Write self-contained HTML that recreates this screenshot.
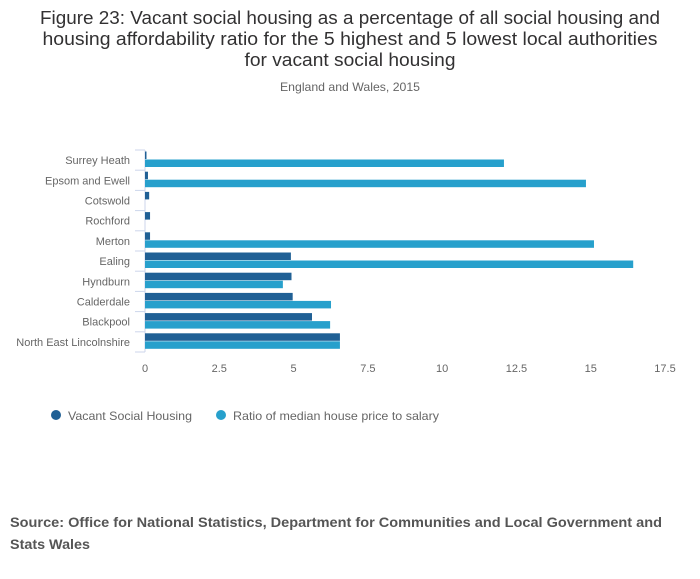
<!DOCTYPE html>
<html><head><meta charset="utf-8"><style>
body{margin:0;background:#fff;font-family:"Liberation Sans",sans-serif;}
svg text{font-family:"Liberation Sans",sans-serif;}
</style></head><body>
<svg width="700" height="574">
<g fill="#323132" font-size="18.5" text-anchor="middle">
<text x="350" y="24" textLength="620" lengthAdjust="spacingAndGlyphs">Figure 23: Vacant social housing as a percentage of all social housing and</text>
<text x="350" y="45" textLength="615" lengthAdjust="spacingAndGlyphs">housing affordability ratio for the 5 highest and 5 lowest local authorities</text>
<text x="350" y="66" textLength="211" lengthAdjust="spacingAndGlyphs">for vacant social housing</text>
</g>
<text x="350" y="91" text-anchor="middle" font-size="12" fill="#666" textLength="140" lengthAdjust="spacingAndGlyphs">England and Wales, 2015</text>
<g id="plot"></g>
<g font-size="12" fill="#666">
<circle cx="56" cy="415" r="5" fill="#206095"/>
<text x="68" y="420" textLength="124" lengthAdjust="spacingAndGlyphs">Vacant Social Housing</text>
<circle cx="221" cy="415" r="5" fill="#27a0cc"/>
<text x="233" y="420" textLength="206" lengthAdjust="spacingAndGlyphs">Ratio of median house price to salary</text>
</g>
<g font-size="14" font-weight="bold" fill="#555">
<text x="10" y="527" textLength="652" lengthAdjust="spacingAndGlyphs">Source: Office for National Statistics, Department for Communities and Local Government and</text>
<text x="10" y="549" textLength="80" lengthAdjust="spacingAndGlyphs">Stats Wales</text>
</g>
</svg>
<script>
const categories=["Surrey Heath","Epsom and Ewell","Cotswold","Rochford","Merton","Ealing","Hyndburn","Calderdale","Blackpool","North East Lincolnshire"];
const vacant=[0.05,0.1,0.14,0.17,0.17,4.91,4.93,4.97,5.62,6.56];
const ratio=[12.08,14.84,0,0,15.11,16.43,4.64,6.26,6.23,6.56];
const ticks=[0,2.5,5,7.5,10,12.5,15,17.5];
const ns="http://www.w3.org/2000/svg";
const g=document.getElementById('plot');
const x0=145,x1=665,xmax=17.5,y0=150,band=20.2;
const X=v=>x0+(x1-x0)*v/xmax;
const Y=i=>y0+i*band;
function mk(t,a){const e=document.createElementNS(ns,t);for(const k in a)e.setAttribute(k,a[k]);g.appendChild(e);return e;}
let ax=mk('line',{x1:x0,x2:x0,y1:y0,y2:Y(categories.length),stroke:'#ccd6eb'});


for(let i=0;i<=categories.length;i++){
 let t=mk('line',{x1:135,x2:x0,y1:Y(i),y2:Y(i),stroke:'#ccd6eb'});
 
 
}
categories.forEach((c,i)=>{
 let l=mk('text',{x:130,y:Y(i)+band/2+4,'text-anchor':'end','font-size':11,fill:'#666'});l.textContent=c;
 
 
 let b1=mk('rect',{x:x0,y:Y(i)+1.5,width:X(vacant[i])-x0,height:7.5,fill:'#206095'});
 
 
 let b2=mk('rect',{x:x0,y:Y(i)+9.5,width:X(ratio[i])-x0,height:7.5,fill:'#27a0cc'});
 
 
});
ticks.forEach(v=>{
 let t=mk('text',{x:X(v),y:372,'text-anchor':'middle','font-size':11,fill:'#666'});t.textContent=v;
 
 
});
</script>
</body></html>
